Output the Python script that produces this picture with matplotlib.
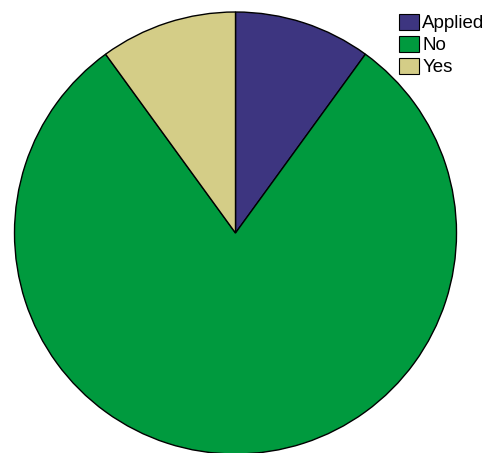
import matplotlib.pyplot as plt
from matplotlib.patches import Patch

plt.rcParams['font.family'] = ['Liberation Sans', 'DejaVu Sans']

labels = ['Applied', 'No', 'Yes']
shares = [10.0, 80.0, 10.0]
colors = ['#3D3580', '#009A3E', '#D4CD87']

W, H = 487, 453
fig = plt.figure(figsize=(W / 100, H / 100), dpi=100)

# pie centre and radius in pixels
cx, cy, r = 235.5, 233, 221
ax = fig.add_axes([(cx - r) / W, (H - cy - r) / H, 2 * r / W, 2 * r / H])
ax.pie(shares, colors=colors, startangle=90, counterclock=False, radius=1,
       wedgeprops=dict(edgecolor='black', linewidth=1.0))
ax.set_xlim(-1, 1)
ax.set_ylim(-1, 1)
ax.set_aspect('equal')
ax.axis('off')

handles = [Patch(facecolor=c, edgecolor='black', linewidth=0.8) for c in colors]
fig.legend(handles, labels, loc='upper left', bbox_to_anchor=(399 / W, 1 - 14 / H),
           frameon=False, fontsize=13.5, borderpad=0, borderaxespad=0,
           handlelength=1.05, handleheight=0.9, handletextpad=0.2,
           labelspacing=0.2)

fig.savefig('out.png', dpi=100)
